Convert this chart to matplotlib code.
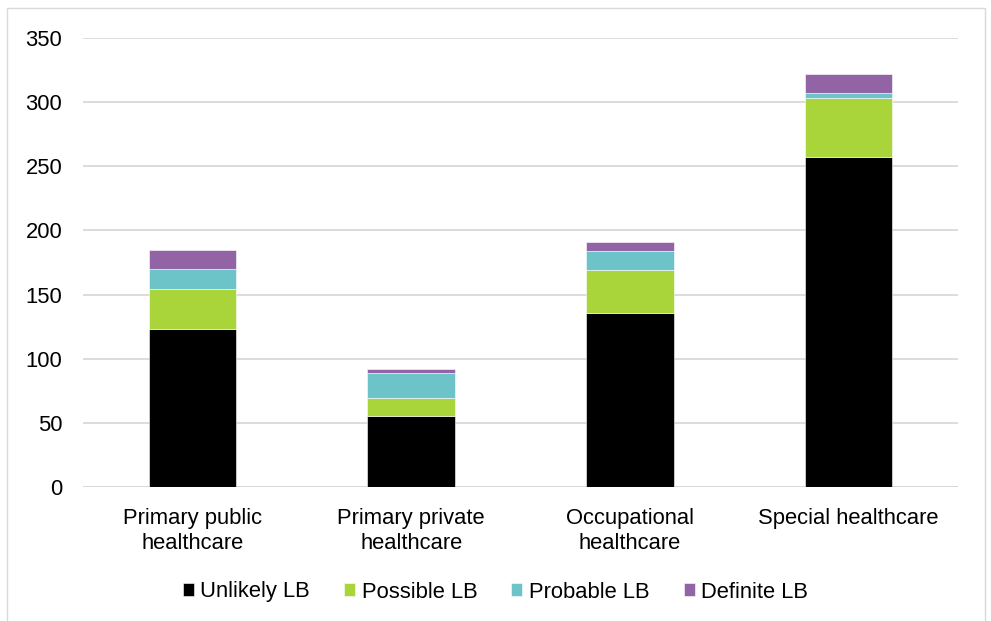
import matplotlib.pyplot as plt
from matplotlib.patches import Rectangle
import numpy as np

plt.rcParams['font.family'] = ['Liberation Sans', 'DejaVu Sans']

categories = ["Primary public\nhealthcare", "Primary private\nhealthcare",
              "Occupational\nhealthcare", "Special healthcare"]
series_names = ["Unlikely LB", "Possible LB", "Probable LB", "Definite LB"]
unlikely = [123, 55, 136, 257]
possible = [31, 14, 33, 46]
probable = [16, 20, 15, 4]
definite = [15, 3, 7, 15]
colors = ["#000000", "#A9D43A", "#6CC3C8", "#9264A5"]
yticks = [0, 50, 100, 150, 200, 250, 300, 350]

fig = plt.figure(figsize=(9.91, 6.21), dpi=100)
ax = fig.add_axes([83 / 991, 1 - 487 / 621, 875 / 991, 449 / 621])

x = np.arange(len(categories))
bottom = np.zeros(len(categories))
for name, vals, col in zip(series_names, [unlikely, possible, probable, definite], colors):
    ax.bar(x, vals, width=0.4, bottom=bottom, color=col, label=name,
           edgecolor="white", linewidth=0.4, zorder=3)
    bottom += np.array(vals)

ax.set_xlim(-0.5, len(categories) - 0.5)
ax.set_ylim(0, 350)
ax.set_yticks(yticks)
ax.yaxis.grid(True, color="#D9D9D9", linewidth=1.3, zorder=0)
ax.set_axisbelow(True)
for s in ["top", "right", "left", "bottom"]:
    ax.spines[s].set_visible(False)
ax.axhline(0, color="#D9D9D9", linewidth=1.3, zorder=1)
ax.tick_params(axis="both", length=0, labelsize=15.8, colors="#000000")
ax.tick_params(axis="y", pad=15)
ax.tick_params(axis="x", pad=15)
ax.set_xticks(x)
ax.set_xticklabels(categories, linespacing=1.25)

leg = fig.legend(loc="center", bbox_to_anchor=(0.5, 1 - 592 / 621), ncol=4,
                 frameon=False, fontsize=15.8, handlelength=0.5, handleheight=0.5,
                 handletextpad=0.3, columnspacing=1.55)

# chart-area border
fig.patches.append(Rectangle((7 / 991, -0.01), 978 / 991, 1 - 8 / 621 + 0.01,
                             transform=fig.transFigure, fill=False,
                             edgecolor="#D9D9D9", linewidth=1.0))

fig.savefig("out.png", dpi=100)
